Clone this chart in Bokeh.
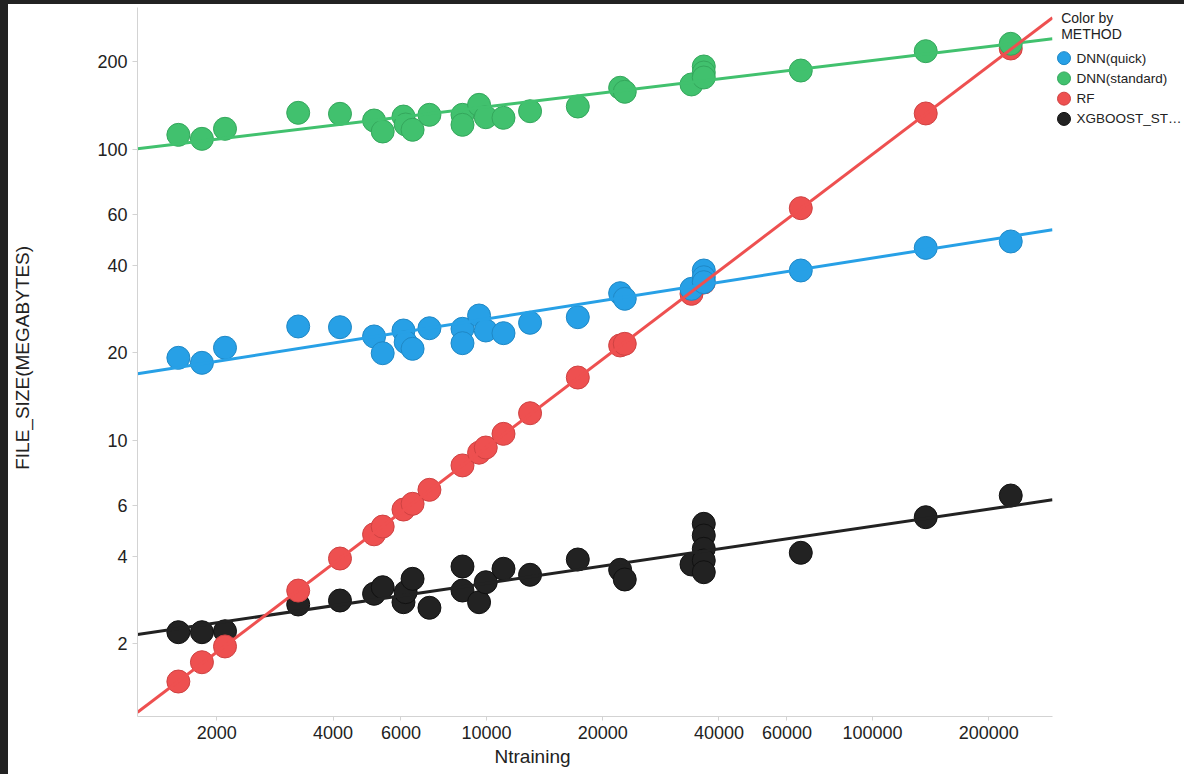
from math import pi
from bokeh.plotting import figure
from bokeh.models import Range1d, FixedTicker, NumeralTickFormatter, Title, Spacer
from bokeh.layouts import column, row
from bokeh.core.properties import value
from bokeh.embed import file_html
from bokeh.resources import INLINE

# ---------------- data ----------------
methods = ["DNN(quick)", "DNN(standard)", "RF", "XGBOOST_ST…"]
fill_colors = ["#27a0e6", "#41c16e", "#ee5050", "#222222"]
edge_colors = ["#1f88c6", "#34a75c", "#cf4242", "#111111"]

x_ticks = [2000, 4000, 6000, 10000, 20000, 40000, 60000, 100000, 200000]
y_ticks = [2, 4, 6, 10, 20, 40, 60, 100, 200]

ntrain_dnn = [1590, 1830, 2100, 3250, 4170, 5110, 5380, 6090, 6170, 6430, 7110,
              8660, 8660, 9560, 9950, 11060, 12960, 17230, 22180, 22800, 33950,
              36530, 36530, 36530, 65160, 137300, 228000]
size_dnn_quick = [19.24, 18.49, 20.83, 24.65, 24.51, 22.78, 19.95, 23.88, 21.77, 20.66, 24.31,
                  24.2, 21.6, 26.89, 23.88, 23.38, 25.38, 26.53, 32.08, 30.69, 33.2,
                  38.39, 36.4, 35.0, 38.39, 45.9, 48.3]
size_dnn_standard = [112.3, 108.8, 117.8, 133.7, 132.6, 125.8, 115.3, 129.8, 121.9, 116.9, 131.6,
                     131.6, 121.6, 142.4, 129.1, 128.5, 135.4, 140.5, 163.0, 157.9, 167.3,
                     192.9, 183.9, 176.8, 186.8, 217.7, 230.8]

ntrain_rf = [1590, 1830, 2100, 3250, 4170, 5110, 5380, 6090, 6430, 7110, 8660,
             9560, 9950, 11060, 12960, 17230, 22180, 22800, 33950, 36530, 65160,
             137300, 228000]
size_rf = [1.485, 1.73, 1.96, 3.05, 3.93, 4.76, 5.06, 5.79, 6.06, 6.77, 8.21,
           9.08, 9.46, 10.54, 12.41, 16.46, 21.21, 21.49, 31.92, 34.9, 62.86,
           133.0, 222.4]

ntrain_xgb = [1590, 1830, 2100, 3250, 4170, 5110, 5380, 6090, 6170, 6430, 7110,
              8660, 8660, 9560, 9950, 11060, 12960, 17230, 22180, 22800, 33950,
              36530, 36530, 36530, 36530, 36530, 65160, 137300, 228000]
size_xgb = [2.194, 2.194, 2.211, 2.732, 2.819, 2.974, 3.132, 2.782, 3.012, 3.347, 2.662,
            3.69, 3.051, 2.782, 3.258, 3.624, 3.455, 3.9, 3.595, 3.329, 3.749,
            5.172, 4.716, 4.245, 3.869, 3.527, 4.113, 5.45, 6.47]

# trend lines (values read at the left and right edge of the pane)
trend_x = [1246, 292500]
trend_quick = [16.95, 53.0]
trend_standard = [100.6, 240.2]
trend_rf = [1.165, 283.6]
trend_xgb = [2.154, 6.255]

y_extent = [1.126, 307.6]

# ---------------- layout constants ----------------
OFF_X, OFF_Y = 8, 4           # dark strip on left / top
H = 770
W_YT = 50                     # strip holding the vertical axis title
MAIN_W = 1047 - W_YT
LEG_W = 1184 - OFF_X - W_YT - MAIN_W
BORDER_L, BORDER_R, BORDER_T, BORDER_B = 129 - W_YT, 3, 3, 58
FONT = "Liberation Sans"
TXT = "#222222"
AXC = "#d3d3d3"


def blank(width, height):
    f = figure(width=width, height=height, x_range=Range1d(0, width),
               y_range=Range1d(height, 0), output_backend="svg", toolbar_location=None,
               x_axis_location=None, y_axis_location=None, min_border=0)
    f.outline_line_color = None
    f.xgrid.visible = False
    f.ygrid.visible = False
    f.background_fill_color = "white"
    f.border_fill_color = "white"
    return f


p = figure(width=MAIN_W, height=H, x_axis_type="log", y_axis_type="log",
           x_range=Range1d(trend_x[0], trend_x[1]),
           y_range=Range1d(y_extent[0], y_extent[1]),
           output_backend="svg", toolbar_location=None,
           min_border_left=BORDER_L, min_border_right=BORDER_R,
           min_border_top=BORDER_T, min_border_bottom=BORDER_B)
p.outline_line_color = None
p.xgrid.visible = False
p.ygrid.visible = False
p.background_fill_color = "white"
p.border_fill_color = "white"

p.xaxis.ticker = FixedTicker(ticks=x_ticks, minor_ticks=[])
p.yaxis.ticker = FixedTicker(ticks=y_ticks, minor_ticks=[])
for ax in (p.xaxis[0], p.yaxis[0]):
    ax.formatter = NumeralTickFormatter(format="0")
    ax.axis_line_color = AXC
    ax.major_tick_line_color = AXC
    ax.minor_tick_line_color = None
    ax.major_tick_in = 0
    ax.major_label_text_font = FONT
    ax.major_label_text_font_size = "18px"
    ax.major_label_text_color = TXT
p.xaxis.major_tick_out = 4
p.xaxis.major_label_standoff = 5
p.yaxis.major_tick_out = 5
p.yaxis.major_label_standoff = 5

series = [
    (ntrain_xgb, size_xgb, 3),
    (ntrain_rf, size_rf, 2),
    (ntrain_dnn, size_dnn_quick, 0),
    (ntrain_dnn, size_dnn_standard, 1),
]
for xs, ys, ci in series:
    p.scatter(xs, ys, size=23, fill_color=fill_colors[ci], line_color=edge_colors[ci],
              line_width=1, fill_alpha=1.0)

for ty, ci in [(trend_xgb, 3), (trend_quick, 0), (trend_standard, 1), (trend_rf, 2)]:
    p.line(trend_x, ty, line_color=fill_colors[ci], line_width=3)

# horizontal axis title, left-aligned with an offset as in the reference
x_title = Title(text="Ntraining", align="left", offset=357, standoff=4,
                vertical_align="bottom", text_font=FONT, text_font_size="19px",
                text_font_style="normal", text_color=TXT)
p.add_layout(x_title, "below")

# ---------------- vertical axis title strip ----------------
ytf = blank(W_YT, H)
ytf.text([14], [380.5], text=["FILE_SIZE(MEGABYTES)"], angle=pi / 2,
         text_align="center", text_baseline="middle",
         text_font=value(FONT), text_font_size="19px", text_color=TXT)

# ---------------- legend panel ----------------
leg = blank(LEG_W, H)
leg.text([5.7, 5.7], [11, 28.5], text=["Color by", "METHOD"], text_baseline="middle",
         text_font=value(FONT), text_font_size="14px", text_color=TXT)
item_y = [55, 77, 99, 121]
leg.scatter([8.5] * 4, item_y, size=13, fill_color=fill_colors, line_color=edge_colors,
            line_width=1)
leg.text([21] * 4, item_y, text=methods, text_baseline="middle",
         text_font=value(FONT), text_font_size="13.5px", text_color=TXT)

top_strip = Spacer(width=1184, height=OFF_Y, styles={"background-color": "#222222"})
left_strip = Spacer(width=OFF_X, height=H, styles={"background-color": "#222222"})
layout = column(top_strip, row(left_strip, ytf, p, leg, spacing=0), spacing=0)

open("out.html", "w").write(file_html(layout, INLINE))
